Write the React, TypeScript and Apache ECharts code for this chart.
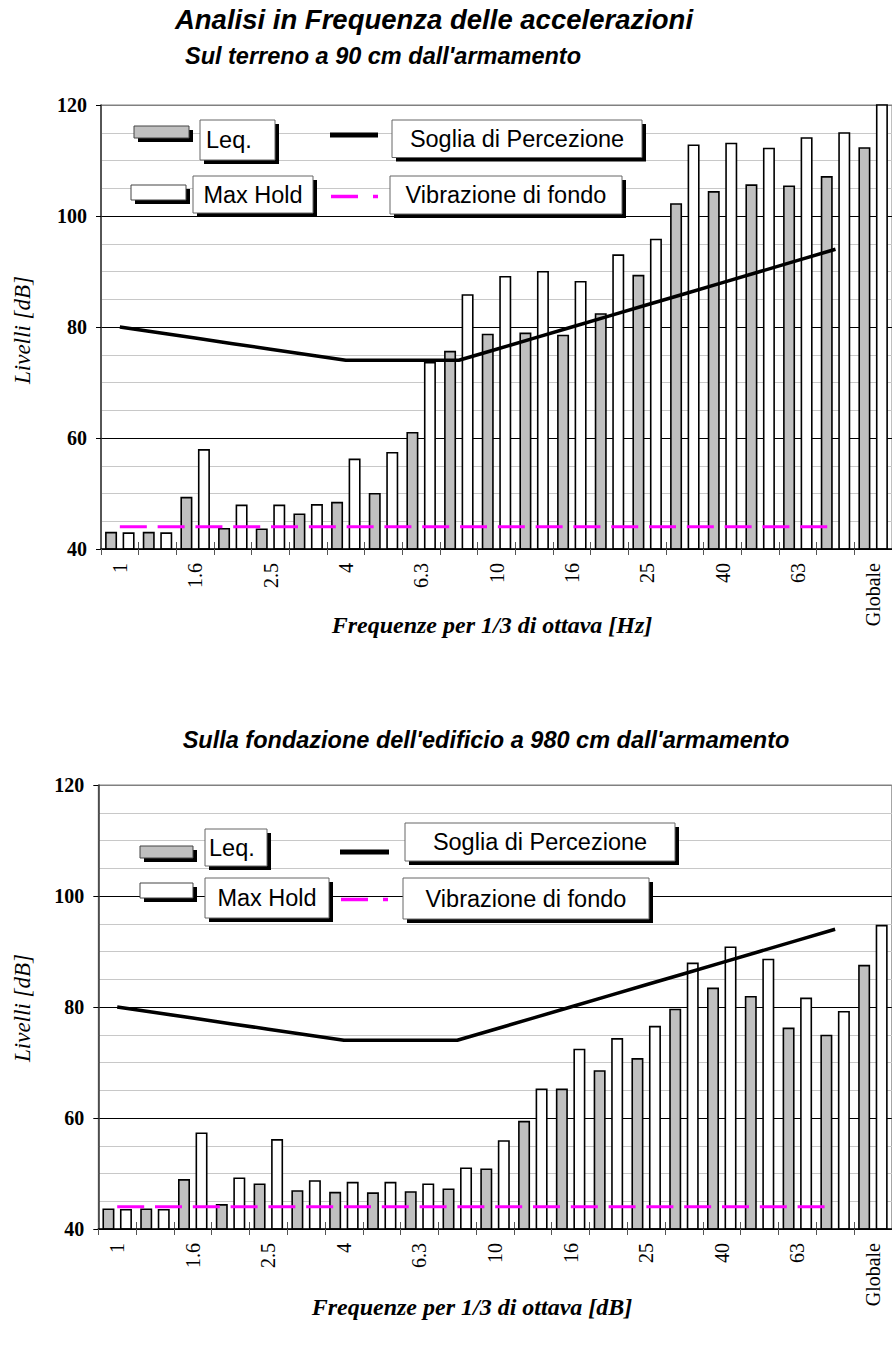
import React, { useEffect, useRef } from "react";
import * as echarts from "echarts";

const categories = ["1", "1.25", "1.6", "2", "2.5", "3.15", "4", "5", "6.3", "8", "10", "12.5", "16", "20", "25", "31.5", "40", "50", "63", "80", "Globale"];

const topLeq = [43.1, 43.1, 49.4, 43.8, 43.7, 46.4, 48.5, 50.1, 61.1, 75.7, 78.8, 79.0, 78.6, 82.5, 89.4, 102.3, 104.5, 105.7, 105.5, 107.2, 112.4];
const topMax = [43.0, 43.0, 58.0, 48.0, 48.0, 48.1, 56.3, 57.5, 73.7, 85.9, 89.2, 90.1, 88.3, 93.1, 95.9, 112.9, 113.2, 112.3, 114.2, 115.1, 120.6];

const bottomLeq = [43.7, 43.7, 49.0, 44.5, 48.2, 47.0, 46.7, 46.6, 46.8, 47.3, 50.9, 59.5, 65.3, 68.6, 70.8, 79.7, 83.5, 82.0, 76.3, 75.0, 87.6];
const bottomMax = [43.6, 43.6, 57.4, 49.3, 56.2, 48.8, 48.5, 48.5, 48.2, 51.1, 56.0, 65.3, 72.5, 74.4, 76.6, 88.0, 90.9, 88.7, 81.7, 79.3, 94.8];

const soglia = [80, 79, 78, 77, 76, 75, 74, 74, 74, 74, 76, 78, 80, 82, 84, 86, 88, 90, 92, 94, null];
const fondo = [44, 44, 44, 44, 44, 44, 44, 44, 44, 44, 44, 44, 44, 44, 44, 44, 44, 44, 44, 44, null];

const yTicks = { min: 40, max: 120, interval: 20 };

const titleMain = "Analisi in Frequenza delle accelerazioni";
const titleTop = "Sul terreno a 90 cm dall'armamento";
const titleBottom = "Sulla fondazione dell'edificio a 980 cm dall'armamento";
const xNameTop = "Frequenze per 1/3 di ottava [Hz]";
const xNameBottom = "Frequenze per 1/3 di ottava [dB]";
const yName = "Livelli [dB]";
const legendNames = ["Leq.", "Max Hold", "Soglia di Percezione", "Vibrazione di fondo"];

const SANS = '"Liberation Sans", Arial, sans-serif';
const SERIF = '"Liberation Serif", "Times New Roman", serif';

function txt(text: string, x: number, y: number, size: number, opts: any = {}) {
  return {
    type: "text",
    x,
    y,
    rotation: opts.rotation || 0,
    z: 60,
    style: {
      text,
      x: 0,
      y: 0,
      fill: "#000",
      fontSize: size,
      fontFamily: opts.family || SANS,
      fontWeight: opts.weight || "normal",
      fontStyle: opts.style || "normal",
      align: opts.align || "center",
      textAlign: opts.align || "center",
      verticalAlign: "middle",
      textVerticalAlign: "middle",
    },
  };
}

function box(x: number, y: number, w: number, h: number, label: string, textX?: number) {
  const els: any[] = [
    { type: "rect", z: 50, shape: { x: x + 4, y: y + 4, width: w, height: h }, style: { fill: "#000" } },
    { type: "rect", z: 51, shape: { x, y, width: w, height: h }, style: { fill: "#fff", stroke: "#666", lineWidth: 1 } },
  ];
  if (textX !== undefined) {
    els.push(txt(label, textX, y + h / 2, 23.5, { align: "left" }));
  } else {
    els.push(txt(label, x + w / 2, y + h / 2, 23.5));
  }
  return els;
}

function swatch(x: number, y: number, w: number, h: number, fill: string) {
  return [
    { type: "rect", z: 50, shape: { x: x + 4, y: y + 4, width: w, height: h }, style: { fill: "#000" } },
    { type: "rect", z: 51, shape: { x, y, width: w, height: h }, style: { fill, stroke: "#444", lineWidth: 1 } },
  ];
}

function legend(L: any) {
  return [
    ...swatch(L.gx, L.gy, L.gw, 12, "#c0c0c0"),
    ...box(L.lx, L.ly, L.lw, L.lh, legendNames[0], L.ltx),
    { type: "line", z: 52, shape: { x1: L.bx1, y1: L.by, x2: L.bx2, y2: L.by }, style: { stroke: "#000", lineWidth: 5 } },
    ...box(L.sx, L.sy, L.sw, L.sh, legendNames[2]),
    ...swatch(L.wx, L.wy, L.gw, 15, "#fff"),
    ...box(L.mx, L.my, L.mw, L.mh, legendNames[1]),
    { type: "line", z: 52, shape: { x1: L.bx1 + 1, y1: L.my2, x2: L.bx1 + 28, y2: L.my2 }, style: { stroke: "#ff00ff", lineWidth: 3.5 } },
    { type: "line", z: 52, shape: { x1: L.bx1 + 43, y1: L.my2, x2: L.bx1 + 48, y2: L.my2 }, style: { stroke: "#ff00ff", lineWidth: 3.5 } },
    ...box(L.vx, L.vy, L.vw, L.vh, legendNames[3]),
  ];
}

const legendTop = {
  gx: 134, gy: 126, gw: 55,
  lx: 200, ly: 120, lw: 75, lh: 40, ltx: 206,
  bx1: 330, bx2: 378, by: 135,
  sx: 392, sy: 120, sw: 250, sh: 37.5,
  wx: 131, wy: 185,
  mx: 193, my: 176, mw: 120, mh: 37, my2: 196.5,
  vx: 390, vy: 176, vw: 232, vh: 38,
};
const legendBottom = {
  gx: 140, gy: 846, gw: 53,
  lx: 205, ly: 829, lw: 62, lh: 37, ltx: 209,
  bx1: 340, bx2: 389, by: 852,
  sx: 405, sy: 823, sw: 270, sh: 38,
  wx: 140, wy: 883,
  mx: 205, my: 878, mw: 124, mh: 40, my2: 899.5,
  vx: 403, vy: 878, vw: 246, vh: 41,
};

function xAxes(gi: number) {
  return [
    {
      type: "category",
      gridIndex: gi,
      position: "bottom",
      data: categories,
      boundaryGap: true,
      z: 6,
      axisLine: { show: true, lineStyle: { color: "#000", width: 1.5 } },
      axisTick: { show: true, interval: 0, length: 6, lineStyle: { color: "#555", width: 1 } },
      axisLabel: { interval: 1, rotate: 90, margin: 14, fontFamily: SERIF, fontSize: 20, color: "#000" },
      splitLine: { show: false },
    },
    {
      type: "category",
      gridIndex: gi,
      position: "bottom",
      data: categories,
      boundaryGap: true,
      axisLine: { show: false },
      axisTick: { show: true, inside: true, interval: 0, length: 7, lineStyle: { color: "#555", width: 1 } },
      axisLabel: { show: false },
      splitLine: { show: false },
    },
  ];
}

function yAxis(gi: number) {
  return {
    type: "value",
    gridIndex: gi,
    min: yTicks.min,
    max: yTicks.max,
    interval: yTicks.interval,
    axisLine: { show: true, lineStyle: { color: "#333", width: 1.5 } },
    axisTick: { show: true, length: 5, lineStyle: { color: "#000" } },
    axisLabel: { fontFamily: SERIF, fontWeight: "bold", fontSize: 20, color: "#000", margin: 14 },
    splitLine: { show: true, lineStyle: { color: ["#000", "#000", "#000", "#000", "#808080"], width: 1 } },
    minorTick: { show: false, splitNumber: 4 },
    minorSplitLine: { show: true, lineStyle: { color: "#c8c8c8", width: 1 } },
  };
}

function seriesFor(gi: number, leq: number[], mx: number[]) {
  const common = { xAxisIndex: gi * 2, yAxisIndex: gi };
  return [
    { ...common, name: legendNames[0], type: "bar", data: leq, barWidth: 12, barGap: "46%", clip: true, itemStyle: { color: "#c0c0c0", borderColor: "#000", borderWidth: 1.6 }, z: 2 },
    { ...common, name: legendNames[1], type: "bar", data: mx, barWidth: 12, barGap: "46%", clip: true, itemStyle: { color: "#fff", borderColor: "#000", borderWidth: 1.6 }, z: 2 },
    { ...common, name: legendNames[2], type: "line", data: soglia, symbol: "none", lineStyle: { color: "#000", width: 3.5 }, z: 4 },
    { ...common, name: legendNames[3], type: "line", data: fondo, symbol: "none", lineStyle: { color: "#ff00ff", width: 3, type: [27, 10.8] }, z: 5 },
  ];
}

export default function App() {
  const ref = useRef<HTMLDivElement>(null);
  useEffect(() => {
    if (!ref.current) return;
    const chart = echarts.init(ref.current, null, { renderer: "svg" });
    const option: any = {
      animation: false,
      backgroundColor: "#fff",
      grid: [
        { left: 101, top: 105, width: 794, height: 444, show: true, borderColor: "#808080", borderWidth: 1, backgroundColor: "transparent" },
        { left: 98.3, top: 785, width: 793.5, height: 444, show: true, borderColor: "#808080", borderWidth: 1, backgroundColor: "transparent" },
      ],
      xAxis: [...xAxes(0), ...xAxes(1)],
      yAxis: [yAxis(0), yAxis(1)],
      series: [...seriesFor(0, topLeq, topMax), ...seriesFor(1, bottomLeq, bottomMax)],
      graphic: {
        elements: [
          txt(titleMain, 434, 19, 27.5, { weight: "bold", style: "italic" }),
          txt(titleTop, 383, 55.5, 23.5, { weight: "bold", style: "italic" }),
          txt(titleBottom, 486, 740, 23.5, { weight: "bold", style: "italic" }),
          txt(xNameTop, 492, 625, 24, { family: SERIF, weight: "bold", style: "italic" }),
          txt(xNameBottom, 472, 1307, 24, { family: SERIF, weight: "bold", style: "italic" }),
          txt(yName, 22, 330, 23, { family: SERIF, style: "italic", rotation: Math.PI / 2 }),
          txt(yName, 22, 1008, 23, { family: SERIF, style: "italic", rotation: Math.PI / 2 }),
          ...legend(legendTop),
          ...legend(legendBottom),
        ],
      },
    };
    chart.setOption(option);
    return () => chart.dispose();
  }, []);
  return <div ref={ref} style={{ position: "absolute", left: 0, top: 0, width: 892, height: 1361 }} />;
}
